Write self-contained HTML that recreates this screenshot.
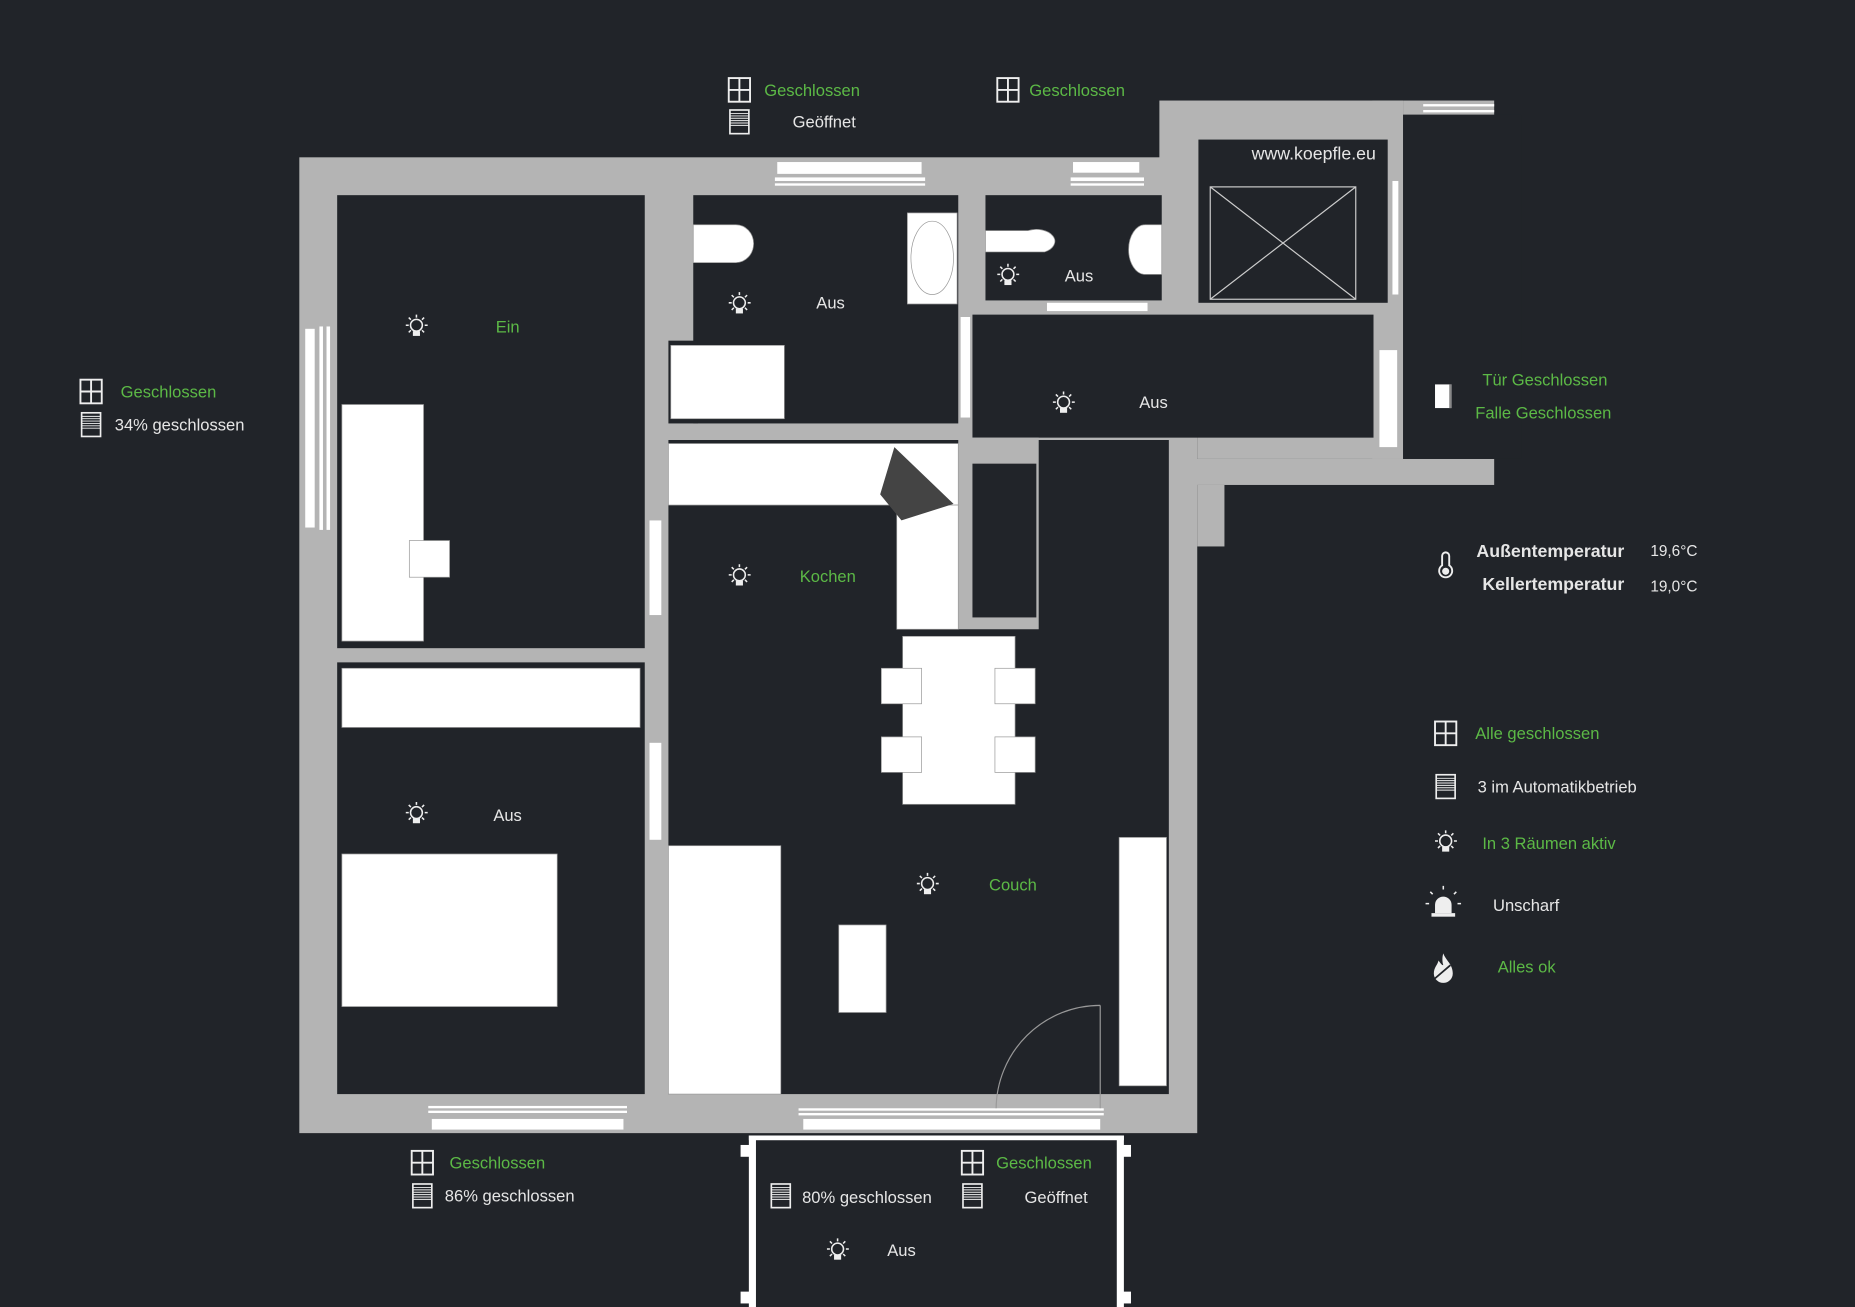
<!DOCTYPE html>
<html><head><meta charset="utf-8"><style>
html,body{margin:0;padding:0;background:#212429;}
svg{display:block;}
text{font-family:"Liberation Sans",sans-serif;font-size:14px;fill:#e6e6e6;}
.g{fill:#5cb946;}
</style></head><body>
<svg width="1855" height="1307" viewBox="0 0 1568 1105" preserveAspectRatio="none" xmlns="http://www.w3.org/2000/svg">
<defs>
<g id="bulb" fill="none" stroke="#eee" stroke-width="1.3">
<circle cx="0" cy="-1" r="5"/>
<rect x="-3" y="4" width="6" height="4" fill="#eee" stroke="none"/>
<path d="M0-10v2.5M-9-1h2.5M7-1h2.5M-6.5-7.5l1.8 1.8M6.5-7.5l-1.8 1.8M-6.5 5l1.8-1.8M6.5 5l-1.8-1.8"/>
</g>
<g id="win" fill="none" stroke="#eee" stroke-width="1.6">
<rect x="-9" y="-10" width="18" height="20"/><path d="M0-10v20M-9 0h18"/>
</g>
<g id="shut" fill="none" stroke="#eee" stroke-width="1.4">
<rect x="-8" y="-10" width="16" height="20"/>
<path d="M-8-7h16M-8-5h16M-8-3h16M-8-1h16M-8 1h16M-8 3h16" stroke-width="0.8"/>
</g>
</defs>
<rect width="1568" height="1105" fill="#212429"/>
<!-- walls -->
<g fill="#b4b4b4">
<rect x="253" y="133" width="759" height="825"/>
<rect x="980" y="85" width="206" height="205"/>
<rect x="1012" y="290" width="174" height="98"/>
<rect x="1160" y="85" width="26" height="303"/>
<rect x="1186" y="85" width="77" height="12"/>
<rect x="988" y="388" width="275" height="22"/>
<rect x="1012" y="410" width="23" height="52"/>
</g>
<g fill="#212429">
<rect x="285" y="165" width="260" height="383"/>
<rect x="285" y="560" width="260" height="365"/>
<rect x="586" y="165" width="224" height="193"/>
<rect x="565" y="288" width="25" height="70"/>
<rect x="833" y="165" width="149" height="89"/>
<rect x="1013" y="118" width="160" height="138"/>
<rect x="822" y="266" width="339" height="104"/>
<rect x="565" y="372" width="423" height="553"/>
<rect x="1186" y="97" width="100" height="291"/>
</g>
<!-- pantry -->
<rect x="810" y="370" width="68" height="162" fill="#b4b4b4"/>
<rect x="822" y="392" width="54" height="130" fill="#212429"/>
<!-- wall openings / windows -->
<g fill="#fff">
<rect x="657" y="137" width="122" height="10"/>
<rect x="655" y="150" width="127" height="3"/><rect x="655" y="155" width="127" height="2"/>
<rect x="907" y="137" width="56" height="9"/>
<rect x="905" y="150" width="62" height="3"/><rect x="905" y="155" width="62" height="2"/>
<rect x="258" y="278" width="8" height="168"/><rect x="270" y="276" width="3" height="172"/><rect x="276" y="276" width="3" height="172"/>
<rect x="365" y="946" width="162" height="9"/><rect x="362" y="935" width="168" height="2"/><rect x="362" y="939" width="168" height="2"/>
<rect x="679" y="946" width="251" height="9"/><rect x="675" y="937" width="258" height="2"/><rect x="675" y="941" width="258" height="2"/>
<rect x="549" y="440" width="10" height="80"/>
<rect x="549" y="628" width="10" height="82"/>
<rect x="812" y="268" width="8" height="85"/>
<rect x="885" y="256" width="85" height="7"/>
<rect x="1177" y="153" width="5" height="96"/>
<rect x="1166" y="296" width="15" height="82"/>
<rect x="1203" y="88" width="60" height="2"/><rect x="1203" y="93" width="60" height="2"/>
<!-- balcony -->
<rect x="633" y="960" width="6" height="145"/><rect x="944" y="960" width="6" height="145"/>
<rect x="633" y="960" width="317" height="4"/>
<rect x="626" y="968" width="8" height="10"/><rect x="948" y="968" width="8" height="10"/>
<rect x="626" y="1092" width="8" height="10"/><rect x="948" y="1092" width="8" height="10"/>
</g>
<!-- furniture -->
<g fill="#fff" stroke="#999" stroke-width="0.6">
<rect x="289" y="342" width="69" height="200"/>
<rect x="346" y="457" width="34" height="31"/>
<rect x="289" y="565" width="252" height="50"/>
<rect x="289" y="722" width="182" height="129"/>
<rect x="567" y="292" width="96" height="62"/>
<path d="M586 190h36a15 16 0 0 1 0 32h-36z"/>
<rect x="767" y="180" width="42" height="77"/>
<ellipse cx="788" cy="218" rx="18" ry="31" fill="none"/>
<path d="M833 195h36a14 9 0 0 1 14 18h-50z"/>
<path d="M982 190h-14a14 21 0 0 0 0 42h14z"/>
<rect x="565" y="375" width="245" height="52"/>
<rect x="758" y="427" width="52" height="105"/>
<rect x="763" y="538" width="95" height="142"/>
<rect x="745" y="565" width="34" height="30"/><rect x="841" y="565" width="34" height="30"/>
<rect x="745" y="623" width="34" height="30"/><rect x="841" y="623" width="34" height="30"/>
<rect x="565" y="715" width="95" height="210"/>
<rect x="709" y="782" width="40" height="74"/>
<rect x="946" y="708" width="40" height="210"/>
</g>
<polygon points="756,378 806,426 762,440 744,418" fill="#444"/>
<path d="M930 850A88 88 0 0 0 842 937M930 850V937" fill="none" stroke="#999" stroke-width="1"/>
<g stroke="#ccc" stroke-width="1" fill="none">
<rect x="1023" y="158" width="123" height="95"/>
<path d="M1023 158L1146 253M1146 158L1023 253"/>
</g>
<text x="1058" y="135" style="font-size:15px" fill="#eee">www.koepfle.eu</text>
<!-- room labels -->
<use href="#bulb" x="352" y="276"/><text x="419" y="281" class="g">Ein</text>
<use href="#bulb" x="625" y="257"/><text x="690" y="261">Aus</text>
<use href="#bulb" x="852" y="233"/><text x="900" y="238">Aus</text>
<use href="#bulb" x="899" y="341"/><text x="963" y="345">Aus</text>
<use href="#bulb" x="625" y="487"/><text x="676" y="492" class="g">Kochen</text>
<use href="#bulb" x="352" y="688"/><text x="417" y="694">Aus</text>
<use href="#bulb" x="784" y="748"/><text x="836" y="753" class="g">Couch</text>
<use href="#bulb" x="708" y="1057"/><text x="750" y="1062">Aus</text>
<!-- windows/shutters -->
<use href="#win" x="625" y="76"/><text x="646" y="81" class="g">Geschlossen</text>
<use href="#shut" x="625" y="103"/><text x="670" y="108">Geöffnet</text>
<use href="#win" x="852" y="76"/><text x="870" y="81" class="g">Geschlossen</text>
<use href="#win" x="77" y="331"/><text x="102" y="336" class="g">Geschlossen</text>
<use href="#shut" x="77" y="359"/><text x="97" y="364">34% geschlossen</text>
<use href="#win" x="357" y="983"/><text x="380" y="988" class="g">Geschlossen</text>
<use href="#shut" x="357" y="1011"/><text x="376" y="1016">86% geschlossen</text>
<use href="#shut" x="660" y="1011"/><text x="678" y="1017">80% geschlossen</text>
<use href="#win" x="822" y="983"/><text x="842" y="988" class="g">Geschlossen</text>
<use href="#shut" x="822" y="1011"/><text x="866" y="1017">Geöffnet</text>
<!-- door -->
<rect x="1213" y="325" width="14" height="20" fill="#fff"/><rect x="1225" y="325" width="2" height="20" fill="#888"/>
<text x="1253" y="326" class="g">Tür Geschlossen</text>
<text x="1247" y="354" class="g">Falle Geschlossen</text>
<!-- temp -->
<g fill="none" stroke="#eee" stroke-width="1.6"><path d="M1219 478V470a3 3 0 0 1 6 0V478a5.5 5.5 0 1 1-6 0z"/></g>
<circle cx="1222" cy="483" r="3" fill="#eee"/>
<text x="1248" y="471" style="font-size:15px;font-weight:bold">Außentemperatur</text>
<text x="1395" y="470" style="font-size:13px">19,6°C</text>
<text x="1253" y="499" style="font-size:15px;font-weight:bold">Kellertemperatur</text>
<text x="1395" y="500" style="font-size:13px">19,0°C</text>
<!-- summary -->
<use href="#win" x="1222" y="620"/><text x="1247" y="625" class="g">Alle geschlossen</text>
<use href="#shut" x="1222" y="665"/><text x="1249" y="670">3 im Automatikbetrieb</text>
<use href="#bulb" x="1222" y="712"/><text x="1253" y="718" class="g">In 3 Räumen aktiv</text>
<g fill="#eee"><path d="M1213 772v-7a7 7 0 0 1 14 0v7z"/><rect x="1210" y="772" width="20" height="3"/></g>
<path d="M1220 752v-3M1211 756l-2-2M1229 756l2-2M1208 764h-3M1232 764h3" stroke="#eee" stroke-width="1.3"/>
<text x="1262" y="770">Unscharf</text>
<path d="M1220 806c2 6 8 9 8 17a8 8 0 0 1-16 0c0-5 3-7 4-11 2 3 3 4 4 4-1-3-1-7 0-10z" fill="#eee"/>
<path d="M1212 828l14-12" stroke="#212429" stroke-width="1.5"/>
<text x="1266" y="822" class="g">Alles ok</text>
</svg>
</body></html>
